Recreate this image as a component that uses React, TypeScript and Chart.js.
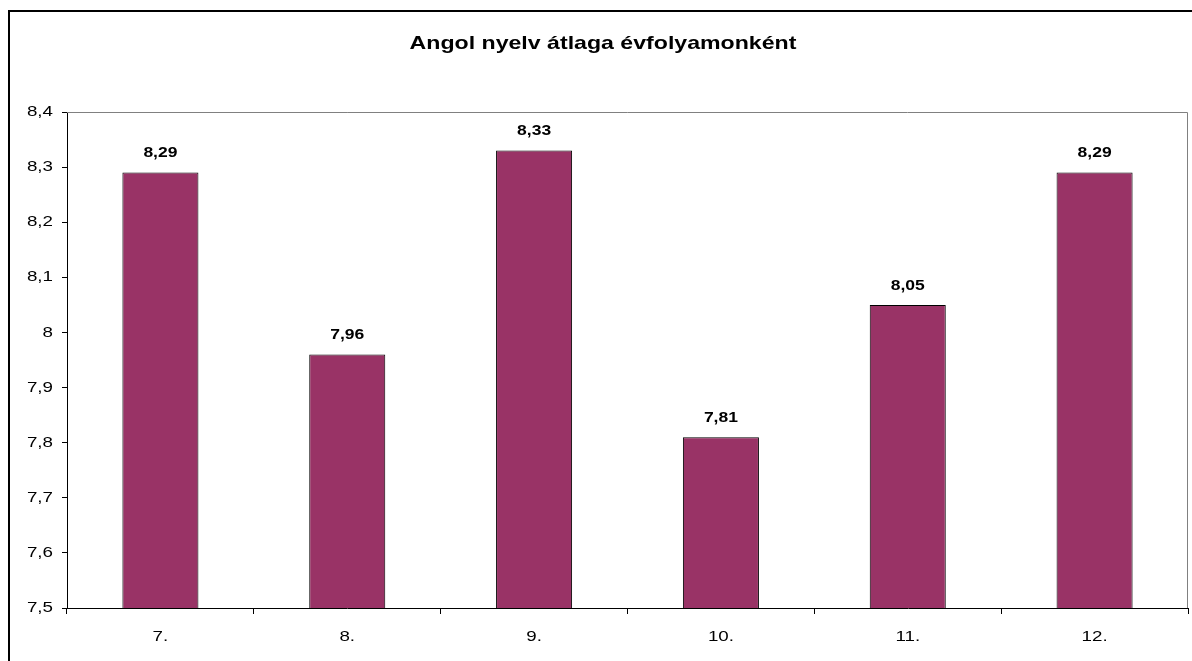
import React, { useEffect, useRef } from "react";
import { Chart, registerables } from "chart.js";

Chart.register(...registerables);

const categories = ["7.", "8.", "9.", "10.", "11.", "12."];
const averages = [8.29, 7.96, 8.33, 7.81, 8.05, 8.29];
const yTickLabels = ["7,5", "7,6", "7,7", "7,8", "7,9", "8", "8,1", "8,2", "8,3", "8,4"];
const title = "Angol nyelv átlaga évfolyamonként";

const FONT = "'Liberation Sans', Arial, sans-serif";
const STRETCH = 1.25;

export default function App() {
  const ref = useRef<HTMLCanvasElement | null>(null);

  useEffect(() => {
    if (!ref.current) return;
    let origFill: any = null;
    const framePlugin = {
      id: "frameAndLabels",
      beforeDraw(chart: any) {
        const ctx = chart.ctx;
        ctx.save();
        ctx.fillStyle = "#ffffff";
        ctx.fillRect(0, 0, chart.width, chart.height);
        ctx.fillStyle = "#000000";
        ctx.fillRect(8, 10, 2, 700);
        ctx.fillRect(8, 10, 1300, 2);
        ctx.restore();
        // widen all text horizontally, as in the reference
        origFill = ctx.fillText;
        ctx.fillText = function (text: string, x: number, y: number, maxWidth?: number) {
          this.save();
          this.translate(x, y);
          this.scale(STRETCH, 1);
          if (maxWidth === undefined) origFill.call(this, text, 0, 0);
          else origFill.call(this, text, 0, 0, maxWidth / STRETCH);
          this.restore();
        };
      },
      afterDraw(chart: any) {
        const ctx = chart.ctx;
        const a = chart.chartArea;
        ctx.save();
        ctx.strokeStyle = "#808080";
        ctx.lineWidth = 1;
        ctx.beginPath();
        ctx.moveTo(a.left, a.top + 0.5);
        ctx.lineTo(a.right - 0.5, a.top + 0.5);
        ctx.lineTo(a.right - 0.5, a.bottom);
        ctx.stroke();
        ctx.fillStyle = "#000000";
        ctx.font = `bold 18.5px ${FONT}`;
        ctx.textAlign = "center";
        ctx.textBaseline = "middle";
        ctx.fillText(title, 603, 44);
        ctx.font = `bold 14px ${FONT}`;
        const meta = chart.getDatasetMeta(0);
        meta.data.forEach((bar: any, i: number) => {
          const label = averages[i].toFixed(2).replace(".", ",");
          ctx.fillText(label, bar.x, bar.y - 19);
        });
        ctx.restore();
        if (origFill) {
          ctx.fillText = origFill;
          origFill = null;
        }
      },
    };

    const chart = new Chart(ref.current, {
      type: "bar",
      data: {
        labels: categories,
        datasets: [
          {
            data: averages,
            backgroundColor: "#993366",
            borderColor: "#000000",
            borderWidth: 1,
            categoryPercentage: 1,
            barPercentage: 0.407,
          },
        ],
      },
      options: {
        animation: false,
        responsive: false,
        layout: { padding: { left: 8, right: 4, top: 112, bottom: 13 } },
        plugins: {
          legend: { display: false },
          title: { display: false },
          tooltip: { enabled: false },
        },
        scales: {
          x: {
            offset: true,
            grid: {
              offset: true,
              drawOnChartArea: false,
              drawTicks: true,
              tickLength: 6,
              tickColor: "#000000",
            },
            border: { color: "#000000", width: 1 },
            ticks: {
              color: "#000000",
              font: { family: FONT, size: 15 },
              padding: 14,
              maxRotation: 0,
              autoSkip: false,
            },
            afterFit: (s: any) => {
              s.height = 40;
            },
          },
          y: {
            min: 7.5,
            max: 8.4,
            grid: {
              drawOnChartArea: false,
              drawTicks: true,
              tickLength: 5,
              tickColor: "#000000",
            },
            border: { color: "#000000", width: 1 },
            ticks: {
              stepSize: 0.1,
              color: "#000000",
              font: { family: FONT, size: 15 },
              padding: 9,
              callback: (_v: any, i: number) => yTickLabels[i],
            },
            afterFit: (s: any) => {
              s.width = 59;
            },
          },
        },
      },
      plugins: [framePlugin],
    });
    return () => chart.destroy();
  }, []);

  return (
    <div
      style={{
        position: "fixed",
        left: 0,
        top: 0,
        width: 1192,
        height: 661,
        overflow: "hidden",
        background: "#fff",
      }}
    >
      <canvas ref={ref} width={1192} height={661} style={{ display: "block" }} />
    </div>
  );
}
